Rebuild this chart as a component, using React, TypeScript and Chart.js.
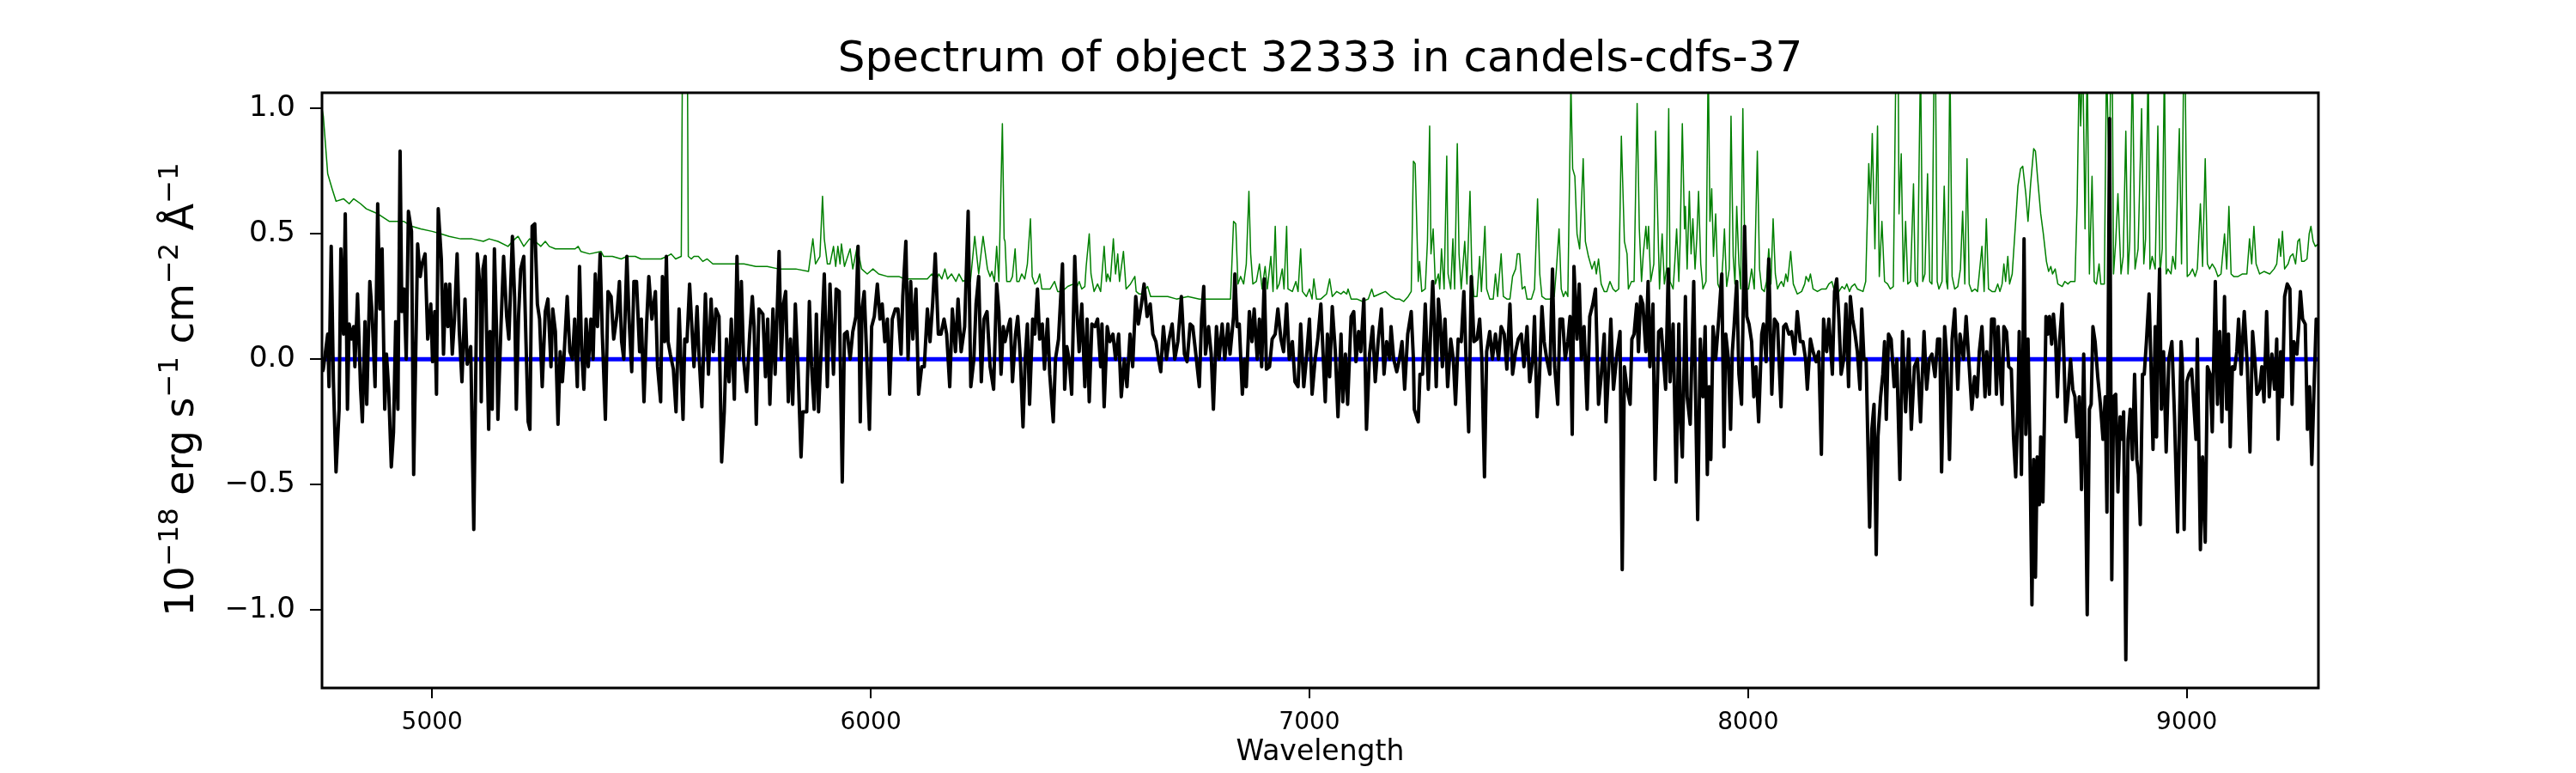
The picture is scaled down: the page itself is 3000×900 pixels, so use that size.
import React, { useEffect, useRef } from "react";
import { Chart, registerables } from "chart.js";

Chart.register(...registerables);

// ---------- data (wavelength in Angstrom, flux in 1e-18 erg/s/cm2/A) ----------
const titleText = "Spectrum of object 32333 in candels-cdfs-37";
const xLabelText = "Wavelength";
const yLabelParts: [string, boolean][] = [
  ["10", false], ["\u221218", true], [" erg s", false], ["\u22121", true],
  [" cm", false], ["\u22122", true], [" \u00c5", false], ["\u22121", true],
];

const xTicks = [5000, 6000, 7000, 8000, 9000];
const yTicks = [-1.0, -0.5, 0.0, 0.5, 1.0];
const xRange = [4749, 9300];
const yRange = [-1.312, 1.063];

// observed spectrum (black)
const fluxSpectrum: [number, number][] = [
  [4750,-0.05],[4752,-0.04],[4762,0.10],[4765,-0.11],[4770,0.45],[4775,-0.09],[4781,-0.45],[4788,-0.20],[4792,0.44],[4798,0.10],
  [4802,0.58],[4807,-0.20],[4811,0.14],[4816,0.08],[4821,0.13],[4824,-0.03],[4830,0.26],[4837,-0.12],[4841,-0.25],[4847,0.15],
  [4851,-0.18],[4858,0.31],[4863,0.19],[4870,-0.11],[4876,0.62],[4881,0.20],[4886,0.44],[4892,-0.20],[4896,0.02],[4901,-0.12],
  [4907,-0.43],[4912,-0.29],[4917,0.15],[4922,-0.20],[4927,0.83],[4931,0.19],[4936,0.28],[4941,0.00],[4946,0.59],[4953,0.51],
  [4958,-0.46],[4967,0.46],[4973,0.33],[4977,0.38],[4984,0.42],[4990,0.08],[4997,0.22],[5001,-0.01],[5006,0.19],[5010,-0.14],
  [5014,0.60],[5021,0.40],[5026,0.02],[5031,0.30],[5036,0.13],[5040,0.30],[5046,0.02],[5051,0.16],[5057,0.42],[5062,0.11],
  [5068,-0.09],[5075,0.24],[5080,-0.02],[5088,0.05],[5095,-0.68],[5098,-0.26],[5103,0.42],[5110,0.27],[5112,-0.17],[5116,0.36],
  [5121,0.41],[5124,0.13],[5129,-0.28],[5132,0.11],[5137,-0.20],[5142,0.44],[5147,0.11],[5150,-0.24],[5157,0.13],[5163,0.41],
  [5170,0.17],[5175,0.08],[5183,0.49],[5188,0.25],[5192,-0.20],[5197,0.17],[5202,0.36],[5209,0.41],[5214,0.07],[5219,-0.25],
  [5223,-0.28],[5228,0.53],[5234,0.54],[5240,0.22],[5245,0.16],[5251,-0.11],[5258,0.19],[5264,0.24],[5271,-0.03],[5275,0.20],
  [5281,0.11],[5287,-0.26],[5292,0.03],[5297,-0.09],[5301,0.02],[5308,0.25],[5314,0.03],[5320,0.00],[5325,0.16],[5331,-0.11],
  [5336,0.37],[5341,0.03],[5346,-0.12],[5351,0.16],[5356,-0.03],[5362,0.16],[5367,0.00],[5372,0.34],[5377,0.13],[5383,0.42],
  [5388,0.10],[5395,-0.24],[5401,0.27],[5408,0.25],[5414,0.08],[5421,0.17],[5427,0.31],[5432,0.07],[5437,0.00],[5444,0.41],
  [5449,0.16],[5455,-0.05],[5460,0.31],[5466,0.31],[5473,0.03],[5477,0.16],[5483,-0.17],[5489,0.14],[5494,0.33],[5501,0.16],
  [5509,0.27],[5514,-0.03],[5521,-0.17],[5525,0.33],[5530,0.07],[5534,0.41],[5538,0.07],[5543,0.02],[5550,-0.04],[5556,-0.21],
  [5563,0.20],[5567,0.00],[5572,-0.24],[5576,0.08],[5581,0.07],[5587,0.30],[5593,0.10],[5597,-0.03],[5604,0.21],[5608,0.03],
  [5615,-0.19],[5623,0.26],[5630,-0.06],[5636,0.24],[5641,0.03],[5647,0.20],[5654,0.17],[5660,-0.41],[5666,-0.21],[5671,0.08],
  [5677,-0.09],[5682,0.16],[5689,-0.16],[5695,0.41],[5700,0.00],[5705,0.31],[5710,0.00],[5717,-0.13],[5724,0.10],[5730,0.25],
  [5734,0.13],[5739,-0.26],[5745,0.20],[5754,0.18],[5760,-0.07],[5765,0.16],[5770,-0.18],[5777,0.20],[5782,-0.06],[5791,0.43],
  [5796,0.00],[5801,0.22],[5806,0.27],[5812,-0.17],[5817,0.08],[5822,-0.18],[5828,0.22],[5834,-0.03],[5841,-0.39],[5845,-0.21],
  [5854,-0.21],[5860,0.23],[5865,-0.03],[5871,-0.20],[5876,0.18],[5881,-0.21],[5888,0.08],[5894,0.34],[5901,-0.11],[5907,0.30],
  [5915,-0.06],[5921,0.28],[5928,0.27],[5935,-0.49],[5940,0.10],[5946,0.11],[5953,0.00],[5959,0.11],[5966,0.17],[5971,0.45],
  [5976,-0.25],[5980,0.20],[5985,0.27],[5991,0.00],[5997,-0.28],[6002,0.13],[6008,0.17],[6015,0.30],[6021,0.16],[6026,0.22],
  [6032,0.07],[6038,0.16],[6043,-0.14],[6049,0.16],[6056,0.20],[6062,0.20],[6069,0.02],[6073,0.25],[6080,0.47],[6085,0.00],
  [6091,0.31],[6096,0.08],[6103,0.28],[6109,-0.14],[6116,-0.03],[6122,-0.03],[6129,0.20],[6135,0.07],[6141,0.22],[6147,0.42],
  [6154,0.10],[6160,0.10],[6167,0.16],[6173,0.10],[6180,-0.11],[6186,0.20],[6193,0.03],[6199,0.24],[6206,0.03],[6214,0.13],
  [6222,0.59],[6228,-0.11],[6235,0.00],[6240,0.22],[6246,0.33],[6252,-0.09],[6258,0.16],[6265,0.19],
  [6272,-0.03],[6280,-0.12],[6287,0.30],[6292,0.19],[6297,-0.06],[6302,0.13],[6306,0.07],[6312,0.12],[6318,0.16],[6323,-0.09],
  [6330,0.10],[6335,0.17],[6341,0.00],[6347,-0.27],[6352,0.00],[6357,0.14],[6362,-0.18],[6369,0.16],[6374,0.10],[6380,0.28],
  [6385,0.08],[6391,0.14],[6396,-0.04],[6403,0.16],[6408,-0.06],[6416,-0.25],[6421,0.00],[6428,0.08],[6437,0.38],[6442,-0.12],
  [6447,0.05],[6452,0.00],[6458,-0.14],[6465,0.41],[6469,0.22],[6475,0.03],[6481,0.22],[6488,-0.11],[6493,0.16],[6498,-0.17],
  [6504,0.14],[6511,0.13],[6517,0.16],[6524,-0.03],[6527,0.14],[6532,-0.19],[6539,0.13],[6545,0.07],[6552,0.10],[6558,0.00],
  [6565,0.10],[6571,-0.15],[6578,0.00],[6584,-0.11],[6591,0.10],[6597,-0.03],[6604,0.25],[6610,0.14],[6617,0.22],[6623,0.30],
  [6630,0.17],[6637,0.22],[6643,0.10],[6650,0.07],[6656,0.00],[6661,-0.05],[6667,0.13],[6674,0.00],[6680,0.08],[6687,0.14],
  [6693,0.00],[6700,0.07],[6708,0.25],[6715,0.02],[6721,-0.01],[6728,0.14],[6734,0.13],[6741,0.02],[6749,-0.11],[6754,0.16],
  [6759,0.29],[6763,0.02],[6770,0.13],[6776,0.02],[6781,-0.20],[6788,0.13],[6794,0.00],[6801,0.14],[6807,0.00],[6814,0.14],
  [6819,0.02],[6827,0.17],[6830,0.34],[6835,0.13],[6840,0.14],[6847,-0.14],[6852,0.00],[6856,-0.11],[6863,0.19],[6869,0.07],
  [6874,0.20],[6881,0.00],[6886,0.16],[6891,-0.03],[6897,0.32],[6902,-0.04],[6909,-0.03],[6915,0.08],[6922,0.10],[6928,0.20],
  [6935,0.08],[6941,0.03],[6948,0.22],[6954,0.00],[6961,0.07],[6967,-0.09],[6974,-0.11],[6980,0.14],[6987,-0.11],[6993,0.00],
  [7000,0.16],[7006,-0.14],[7013,0.00],[7019,0.08],[7026,0.22],
  [7036,-0.17],[7041,0.10],[7046,-0.07],[7052,0.21],[7059,0.03],[7065,-0.23],[7072,0.10],[7076,-0.17],[7082,0.02],[7087,-0.18],
  [7095,0.17],[7101,0.19],[7106,-0.01],[7112,0.11],[7117,0.03],[7124,0.24],[7130,-0.28],[7137,0.02],[7144,0.13],[7150,-0.09],
  [7157,0.08],[7164,0.20],[7170,-0.06],[7176,0.07],[7183,0.00],[7186,0.13],[7192,0.00],[7199,-0.05],[7205,0.00],[7211,0.07],
  [7217,-0.12],[7224,0.10],[7232,0.19],[7237,0.00],[7239,-0.20],[7248,-0.25],[7252,-0.06],[7258,-0.06],[7264,0.22],[7271,-0.12],
  [7276,0.10],[7281,0.31],[7285,0.13],[7289,-0.11],[7294,0.24],[7298,0.16],[7303,-0.03],[7309,0.16],[7315,-0.11],[7322,0.08],
  [7328,0.00],[7333,-0.18],[7339,0.08],[7346,0.07],[7352,0.27],[7357,0.00],[7363,-0.29],[7369,0.33],[7375,0.07],[7382,0.08],
  [7388,0.16],[7393,0.00],[7399,-0.47],[7404,0.03],[7411,0.11],[7417,0.00],[7424,0.10],[7431,0.00],[7437,0.13],[7444,0.10],
  [7450,-0.04],[7457,0.22],[7463,-0.06],[7470,0.03],[7476,0.08],[7483,0.10],[7489,-0.03],[7496,0.13],[7502,-0.09],[7509,0.00],
  [7513,0.17],[7519,-0.23],[7524,-0.09],[7530,0.21],[7535,0.07],[7541,0.00],[7548,-0.06],[7554,0.36],[7559,-0.03],[7566,-0.18],
  [7571,0.16],[7577,0.16],[7583,0.00],[7589,0.07],[7594,0.17],[7599,-0.30],[7603,0.37],[7610,0.08],[7615,0.30],[7620,0.00],
  [7626,0.13],[7633,-0.20],[7639,0.17],[7646,0.22],[7652,0.28],[7659,-0.18],[7665,-0.07],[7672,0.10],[7676,-0.25],[7682,-0.04],
  [7687,0.16],[7693,-0.12],[7701,0.02],[7708,0.11],[7713,-0.84],[7718,-0.03],[7724,-0.12],[7731,-0.18],[7735,0.08],[7740,0.10],
  [7746,0.22],[7750,0.03],[7755,0.25],[7760,0.22],[7767,0.03],[7772,0.31],[7776,-0.03],[7783,0.22],[7788,-0.48],
  [7796,0.11],[7802,0.12],[7807,0.00],[7812,-0.12],[7818,0.36],[7822,-0.09],[7829,0.14],[7836,-0.49],[7842,0.14],[7846,-0.25],
  [7850,-0.39],[7857,0.25],[7861,-0.15],[7868,-0.26],[7876,0.31],[7881,-0.23],[7885,-0.64],[7891,0.08],[7897,-0.15],[7902,0.13],
  [7907,-0.46],[7911,-0.11],[7915,-0.40],[7920,0.13],[7926,0.00],[7933,0.16],[7940,0.34],[7945,-0.35],[7949,0.10],[7955,0.00],
  [7960,-0.28],[7964,0.03],[7968,0.13],[7974,0.31],[7979,-0.06],[7985,-0.18],[7992,0.53],[7997,0.17],[8002,0.14],[8008,0.07],
  [8013,-0.15],[8018,-0.03],[8024,-0.25],[8031,0.10],[8035,0.14],[8041,-0.01],[8047,0.40],[8054,-0.14],[8060,0.16],[8067,0.14],
  [8075,-0.19],[8081,0.13],[8086,0.14],[8093,0.10],[8099,0.11],[8106,0.02],[8112,0.19],[8119,0.07],[8125,0.07],[8131,0.00],
  [8135,-0.12],[8142,0.08],[8148,0.03],[8155,-0.01],[8161,0.03],[8167,-0.38],[8172,0.16],[8179,0.03],[8184,0.16],[8192,-0.06],
  [8197,0.27],[8202,0.32],[8207,0.16],[8212,-0.06],[8218,0.00],[8223,0.22],[8229,-0.11],[8233,0.25],[8238,0.16],[8243,0.11],
  [8249,0.03],[8255,-0.12],[8259,0.20],[8264,0.00],[8269,0.00],[8277,-0.67],[8282,-0.28],[8287,-0.18],[8292,-0.78],[8296,-0.31],
  [8302,-0.15],[8307,-0.06],[8311,0.07],[8315,-0.24],[8320,0.10],[8326,0.08],[8333,-0.11],[8339,0.00],[8346,-0.48],[8352,0.11],
  [8359,-0.21],[8366,0.08],[8372,-0.28],[8379,-0.03],[8386,0.00],[8393,-0.25],[8401,0.11],[8407,-0.12],[8413,0.00],[8419,0.02],
  [8426,-0.07],[8432,0.08],[8437,0.08],[8441,-0.45],[8448,0.13],[8453,0.00],[8459,-0.40],[8465,0.08],[8471,0.20],[8478,-0.12],
  [8483,0.10],[8491,0.00],[8497,0.17],[8504,-0.03],[8510,-0.20],[8516,-0.07],[8522,-0.15],[8527,0.03],[8533,0.13],[8540,-0.15],
  [8544,0.03],[8550,-0.14],[8555,0.16],
  [8561,0.16],[8566,-0.14],[8570,0.13],[8574,-0.03],[8579,-0.18],[8583,0.13],[8589,0.11],[8594,-0.03],[8600,-0.04],[8605,-0.31],
  [8610,-0.47],[8615,-0.18],[8618,0.11],[8623,-0.46],[8627,0.10],[8629,0.48],[8633,-0.30],[8638,0.08],[8642,-0.31],[8647,-0.98],
  [8651,-0.40],[8655,-0.87],[8659,-0.39],[8664,-0.58],[8667,-0.31],[8672,-0.57],[8675,-0.28],[8679,0.17],[8683,0.10],[8687,0.17],
  [8692,0.06],[8696,0.18],[8701,0.07],[8705,-0.15],[8710,0.07],[8716,0.22],[8720,0.00],[8724,-0.25],[8729,-0.15],[8735,0.00],
  [8740,-0.12],[8745,-0.15],[8750,-0.31],[8755,-0.15],[8760,-0.52],[8765,0.02],[8768,-0.31],[8773,-1.02],[8778,-0.20],[8782,-0.18],
  [8786,0.13],[8791,0.07],[8797,-0.07],[8803,-0.18],[8809,-0.32],[8814,-0.15],[8818,-0.61],[8824,0.96],[8829,-0.88],[8833,-0.15],
  [8838,-0.14],[8843,-0.53],[8848,-0.23],[8853,-0.32],[8856,-0.21],[8861,-1.20],[8866,-0.32],[8871,-0.20],[8876,-0.40],[8881,-0.06],
  [8886,-0.40],[8890,-0.46],[8894,-0.66],[8899,-0.06],[8903,-0.06],[8908,0.07],[8914,0.26],[8918,0.00],[8923,-0.36],[8928,0.13],
  [8931,-0.31],[8934,0.07],[8938,0.36],[8942,-0.20],[8947,0.03],[8953,-0.37],[8959,0.00],[8966,0.07],[8972,-0.23],[8979,-0.69],
  [8983,-0.28],[8987,0.07],[8990,-0.03],[8994,-0.68],[9000,-0.09],[9005,-0.06],[9011,-0.04],[9016,-0.18],[9021,-0.32],[9024,0.08],
  [9031,-0.76],[9036,-0.39],[9042,-0.73],[9047,-0.03],[9053,-0.06],[9058,-0.29],[9065,0.31],[9070,-0.18],[9075,0.11],[9080,-0.25],
  [9086,0.25],[9091,-0.20],[9095,0.10],[9099,-0.35],[9104,-0.03],[9109,-0.04],[9114,0.03],[9118,0.16],[9124,-0.06],[9128,0.10],
  [9131,0.19],[9138,-0.03],[9144,-0.37],[9150,0.11],[9155,0.00],[9160,-0.14],[9166,-0.12],[9171,-0.03],[9176,-0.17],[9182,0.19],
  [9188,-0.15],[9194,0.02],[9200,-0.12],[9205,0.08],[9208,-0.32],[9214,0.03],[9218,-0.15],[9223,0.25],[9229,0.30],[9235,0.28],
  [9240,-0.18],[9244,0.07],[9251,0.02],[9255,0.13],[9259,0.27],[9264,0.16],[9270,0.14],[9275,-0.28],[9280,-0.11],[9285,-0.42],
  [9290,-0.12],[9295,0.16],[9300,0.14],
];

// noise / sky spectrum (green)
const noiseSpectrum: [number, number][] = [
  [4749,1.00],[4752,0.97],[4762,0.74],[4772,0.68],[4781,0.63],[4798,0.64],[4811,0.62],[4821,0.64],[4837,0.62],[4850,0.60],
  [4863,0.59],[4876,0.58],[4902,0.55],[4922,0.55],[4935,0.55],[4954,0.53],[4974,0.52],[5000,0.51],[5020,0.50],[5039,0.49],
  [5065,0.48],[5091,0.48],[5117,0.47],[5130,0.48],[5150,0.47],[5173,0.45],[5189,0.48],[5196,0.49],[5209,0.45],[5222,0.48],
  [5235,0.47],[5248,0.45],[5258,0.47],[5267,0.45],[5281,0.44],[5307,0.44],[5326,0.44],[5333,0.45],[5339,0.43],[5359,0.42],
  [5385,0.43],[5391,0.41],[5411,0.41],[5431,0.40],[5444,0.41],[5463,0.41],[5476,0.40],[5496,0.40],
  [5522,0.40],[5535,0.41],[5545,0.42],[5555,0.40],[5568,0.41],[5572,1.60],[5581,1.60],[5584,0.41],[5591,0.40],[5597,0.41],
  [5607,0.41],[5617,0.39],[5627,0.40],[5640,0.38],[5653,0.38],[5672,0.38],[5692,0.38],[5711,0.38],[5738,0.37],[5764,0.37],
  [5790,0.36],[5829,0.36],[5858,0.35],[5868,0.48],[5874,0.38],[5884,0.41],[5890,0.65],[5894,0.48],[5901,0.38],[5907,0.38],
  [5915,0.45],[5920,0.37],[5925,0.45],[5930,0.38],[5933,0.46],[5940,0.37],[5953,0.44],[5959,0.36],[5969,0.45],[5979,0.36],
  [5992,0.34],[6005,0.36],[6018,0.34],[6038,0.33],[6064,0.33],[6077,0.32],[6103,0.32],[6129,0.32],[6139,0.34],[6148,0.31],
  [6155,0.34],[6162,0.32],[6169,0.36],[6175,0.32],[6184,0.34],[6194,0.31],[6201,0.34],[6210,0.31],[6220,0.32],[6227,0.31],
  [6237,0.49],[6246,0.34],[6256,0.49],
  [6266,0.36],[6272,0.33],[6276,0.35],[6282,0.31],[6287,0.45],[6292,0.31],[6300,0.94],[6304,0.48],[6306,0.47],[6310,0.31],
  [6318,0.31],[6323,0.33],[6329,0.44],[6333,0.31],[6338,0.31],[6344,0.34],[6351,0.32],[6357,0.38],[6364,0.56],[6368,0.33],
  [6374,0.30],[6380,0.31],[6385,0.34],[6390,0.28],[6400,0.28],[6409,0.28],[6419,0.31],[6426,0.27],[6436,0.27],[6449,0.29],
  [6462,0.30],[6468,0.28],[6475,0.31],[6481,0.28],[6488,0.29],[6491,0.37],[6498,0.50],[6502,0.34],[6509,0.27],[6517,0.30],
  [6524,0.27],[6532,0.45],[6537,0.31],[6540,0.34],[6546,0.31],[6553,0.48],[6558,0.34],[6563,0.42],[6567,0.31],[6576,0.43],
  [6582,0.28],[6592,0.30],[6602,0.33],[6605,0.27],[6612,0.26],[6618,0.26],[6631,0.29],[6638,0.25],[6657,0.25],[6677,0.25],
  [6697,0.24],[6723,0.25],[6749,0.24],[6775,0.24],[6788,0.24],[6801,0.24],[6820,0.24],[6827,0.55],[6832,0.54],[6837,0.30],
  [6843,0.33],[6850,0.30],[6856,0.38],[6862,0.67],[6866,0.42],[6871,0.30],[6879,0.31],[6886,0.38],[6892,0.28],[6899,0.37],
  [6904,0.28],[6912,0.41],[6917,0.27],[6922,0.53],[6926,0.28],[6931,0.30],[6938,0.36],[6942,0.28],[6948,0.53],[6951,0.28],
  [6961,0.27],[6969,0.31],[6974,0.27],[6980,0.44],[6984,0.27],[6993,0.25],[7000,0.28],[7006,0.24],[7010,0.32],[7016,0.24],
  [7026,0.24],
  [7039,0.26],[7046,0.32],[7052,0.25],[7062,0.27],[7072,0.26],[7078,0.27],[7085,0.26],[7088,0.28],[7095,0.24],[7108,0.24],
  [7121,0.23],[7134,0.24],[7142,0.28],[7147,0.25],[7160,0.26],[7173,0.27],[7186,0.25],[7196,0.24],[7205,0.24],[7215,0.23],
  [7225,0.25],[7232,0.27],[7237,0.79],[7241,0.78],[7248,0.31],[7251,0.39],[7256,0.27],[7264,0.28],[7269,0.47],[7274,0.93],
  [7277,0.42],[7282,0.52],[7287,0.30],[7294,0.34],[7297,0.28],[7301,0.44],[7307,0.28],[7313,0.81],[7316,0.34],[7322,0.28],
  [7327,0.48],[7331,0.28],[7337,0.86],[7341,0.42],[7346,0.28],[7354,0.47],[7359,0.30],[7366,0.67],[7370,0.36],[7375,0.25],
  [7382,0.25],[7388,0.41],[7392,0.27],[7400,0.53],[7404,0.28],[7411,0.24],[7419,0.24],[7424,0.34],[7429,0.25],[7437,0.42],
  [7442,0.25],[7450,0.24],[7457,0.24],[7463,0.33],[7470,0.36],[7474,0.42],[7479,0.42],[7485,0.28],[7491,0.29],[7496,0.24],
  [7506,0.24],[7513,0.28],[7520,0.64],[7525,0.34],[7530,0.25],[7538,0.24],[7548,0.24],[7558,0.25],[7563,0.36],[7569,0.52],
  [7574,0.28],[7579,0.25],[7584,0.27],[7589,0.25],[7596,1.10],[7600,0.76],[7605,0.73],[7610,0.50],[7616,0.44],[7624,0.80],
  [7629,0.47],[7636,0.41],[7644,0.36],[7650,0.39],[7654,0.34],[7659,0.40],[7665,0.30],[7672,0.27],[7678,0.27],[7685,0.31],
  [7692,0.28],[7698,0.27],[7705,0.28],[7711,0.89],[7718,0.47],[7724,0.42],[7727,0.28],[7734,0.31],[7740,0.31],[7747,1.02],
  [7752,0.52],[7757,0.31],[7761,0.42],[7767,0.53],[7770,0.44],[7773,0.53],[7778,0.31],[7785,0.38],[7789,0.91],
  [7798,0.28],[7804,0.50],[7809,0.30],[7814,0.36],[7819,1.00],[7822,0.31],[7829,0.28],[7833,0.39],[7837,0.52],[7842,0.31],
  [7845,0.47],[7850,0.94],[7855,0.52],[7857,0.61],[7861,0.36],[7866,0.67],[7870,0.42],[7874,0.56],[7879,0.36],[7883,0.48],
  [7887,0.67],[7892,0.38],[7897,0.28],[7904,0.31],[7909,1.20],[7913,0.55],[7917,0.68],[7921,0.41],[7926,0.58],[7931,0.30],
  [7938,0.27],[7943,0.41],[7946,0.52],[7951,0.29],[7957,0.36],[7961,0.97],[7966,0.41],[7970,0.30],[7974,0.61],[7979,0.38],
  [7983,0.28],[7988,1.00],[7992,0.47],[7996,0.28],[8001,0.28],[8008,0.36],[8014,0.28],[8021,0.83],[8026,0.36],[8031,0.28],
  [8037,0.27],[8042,0.31],[8047,0.44],[8052,0.30],[8057,0.56],[8062,0.34],[8067,0.28],[8072,0.30],[8076,0.31],[8081,0.29],
  [8086,0.34],[8090,0.31],[8093,0.36],[8097,0.43],[8103,0.30],[8112,0.26],[8122,0.27],[8129,0.30],[8132,0.33],[8138,0.31],
  [8142,0.34],[8148,0.28],[8158,0.27],[8168,0.28],[8178,0.28],[8184,0.30],[8191,0.31],[8197,0.27],[8207,0.27],[8214,0.29],
  [8220,0.28],[8225,0.30],[8231,0.27],[8236,0.29],[8243,0.30],[8249,0.28],[8262,0.27],[8268,0.31],[8275,0.78],[8279,0.62],
  [8283,0.90],[8289,0.44],[8295,0.93],[8299,0.33],[8305,0.55],[8311,0.31],[8318,0.30],[8324,0.28],[8331,0.29],[8337,1.20],
  [8342,1.20],[8344,0.58],[8349,0.82],[8354,0.31],[8359,0.55],[8364,0.30],[8370,0.31],[8377,0.70],[8381,0.31],[8386,0.29],
  [8393,1.20],[8398,0.31],[8403,0.34],[8409,0.74],[8414,0.31],[8419,0.30],[8424,1.20],[8427,1.20],[8431,0.31],[8435,0.28],
  [8442,0.31],[8447,0.69],[8452,0.31],[8455,0.28],[8460,1.20],[8465,0.33],[8471,0.28],[8478,0.29],[8484,0.36],[8489,0.59],
  [8494,0.30],[8499,0.80],[8504,0.30],[8510,0.27],[8517,0.28],[8523,0.27],[8533,0.45],[8538,0.27],[8543,0.56],[8548,0.28],
  [8556,0.27],
  [8563,0.27],[8569,0.30],[8574,0.27],[8579,0.30],[8583,0.38],[8587,0.31],[8592,0.41],[8596,0.30],[8602,0.34],[8608,0.50],
  [8615,0.69],[8621,0.76],[8626,0.77],[8633,0.66],[8638,0.55],[8644,0.70],[8651,0.84],[8655,0.83],[8660,0.72],[8667,0.58],
  [8673,0.50],[8680,0.39],[8685,0.35],[8690,0.37],[8694,0.34],[8700,0.36],[8706,0.30],[8716,0.29],[8722,0.31],[8729,0.30],
  [8735,0.31],[8745,0.31],[8750,0.62],[8755,1.20],[8758,0.93],[8763,1.20],[8768,0.52],[8773,1.20],[8778,0.34],[8784,0.73],
  [8789,0.31],[8794,0.30],[8800,0.38],[8804,0.30],[8812,0.30],[8817,1.20],[8823,0.70],[8827,1.20],[8830,1.20],[8833,0.34],
  [8838,0.47],[8843,0.66],[8850,0.34],[8855,0.41],[8861,0.91],[8866,0.34],[8870,0.47],[8876,1.20],[8882,0.36],[8889,0.44],
  [8897,1.00],[8902,0.38],[8906,0.48],[8912,1.20],[8916,0.36],[8921,0.41],[8928,0.36],[8934,0.93],[8939,0.34],[8944,0.44],
  [8949,1.20],[8953,0.34],[8957,0.36],[8964,0.34],[8968,0.41],[8974,0.36],[8983,0.92],[8988,0.38],[8993,1.20],[8996,1.20],
  [9001,0.33],[9007,0.34],[9013,0.36],[9019,0.33],[9024,0.36],[9031,0.62],[9036,0.37],[9042,0.80],[9047,0.38],[9052,0.36],
  [9058,0.38],[9065,0.36],[9071,0.33],[9078,0.34],[9086,0.50],[9091,0.36],[9096,0.61],[9101,0.34],[9107,0.33],[9117,0.33],
  [9127,0.34],[9137,0.34],[9143,0.48],[9148,0.38],[9153,0.53],[9158,0.38],[9166,0.34],[9176,0.35],[9189,0.34],[9199,0.36],
  [9205,0.38],[9210,0.48],[9214,0.41],[9218,0.51],[9223,0.36],[9231,0.38],[9236,0.41],[9242,0.42],[9248,0.38],[9253,0.47],
  [9257,0.48],[9262,0.39],[9267,0.39],[9274,0.40],[9279,0.50],[9283,0.53],[9288,0.47],[9293,0.45],[9300,0.46],
];

// model (blue)
const modelSpectrum: [number, number][] = [[4749, 0.0], [9300, 0.0]];

// ---------- chart ----------
const FONT = "'DejaVu Sans', 'Liberation Sans', sans-serif";

const fmtY = (v: number) => (v < 0 ? "\u2212" + Math.abs(v).toFixed(1) : v.toFixed(1));

const textPlugin = {
  id: "mplTexts",
  afterDraw(chart: any) {
    const { ctx, chartArea: a } = chart;
    ctx.save();
    ctx.strokeStyle = "#000";
    ctx.lineWidth = 3;
    ctx.strokeRect(a.left, a.top, a.right - a.left, a.bottom - a.top);

    const cx = (a.left + a.right) / 2;
    ctx.fillStyle = "#000";
    ctx.textAlign = "center";
    ctx.textBaseline = "alphabetic";
    ctx.font = `50px ${FONT}`;
    ctx.fillText(titleText, cx, 83);
    ctx.font = `33px ${FONT}`;
    ctx.fillText(xLabelText, cx, 885);

    const fs = 46;
    const sfs = fs * 0.7;
    let total = 0;
    const widths = yLabelParts.map(([t, sup]) => {
      ctx.font = `${sup ? sfs : fs}px ${FONT}`;
      const w = ctx.measureText(t).width;
      total += w;
      return w;
    });
    ctx.translate(225, (a.top + a.bottom) / 2 - 1);
    ctx.rotate(-Math.PI / 2);
    ctx.textAlign = "left";
    let x = -total / 2;
    yLabelParts.forEach(([t, sup], i) => {
      ctx.font = `${sup ? sfs : fs}px ${FONT}`;
      ctx.fillText(t, x, sup ? -0.39 * fs : 0);
      x += widths[i];
    });
    ctx.restore();
  },
};

export default function App() {
  const ref = useRef<HTMLCanvasElement | null>(null);

  useEffect(() => {
    document.body.style.margin = "0";
    const canvas = ref.current;
    if (!canvas) return;
    const toXY = (arr: [number, number][]) => arr.map(([x, y]) => ({ x, y }));
    const chart = new Chart(canvas, {
      type: "line",
      data: {
        datasets: [
          {
            label: "flux",
            data: toXY(fluxSpectrum),
            borderColor: "#000000",
            borderWidth: 4,
            pointRadius: 0,
            tension: 0,
            borderJoinStyle: "round",
            clip: 0,
            order: 0,
          },
          {
            label: "model",
            data: toXY(modelSpectrum),
            borderColor: "#0000ff",
            borderWidth: 5,
            pointRadius: 0,
            tension: 0,
            clip: 0,
            order: 1,
          },
          {
            label: "noise",
            data: toXY(noiseSpectrum),
            borderColor: "#008000",
            borderWidth: 1.5,
            pointRadius: 0,
            tension: 0,
            borderJoinStyle: "round",
            clip: 0,
            order: 2,
          },
        ],
      },
      options: {
        animation: false,
        responsive: false,
        devicePixelRatio: 1,
        layout: { padding: { left: 0, right: 300, top: 108, bottom: 0 } },
        plugins: {
          legend: { display: false },
          tooltip: { enabled: false },
          title: { display: false },
        },
        events: [],
        scales: {
          x: {
            type: "linear",
            position: "bottom",
            min: xRange[0],
            max: xRange[1],
            afterBuildTicks: (s: any) => {
              s.ticks = xTicks.map((v) => ({ value: v }));
            },
            afterFit: (s: any) => {
              s.height = 99;
            },
            ticks: {
              autoSkip: false,
              maxRotation: 0,
              padding: 12,
              color: "#000",
              font: { family: FONT, size: 28 },
              callback: (v: any) => String(v),
            },
            grid: {
              drawOnChartArea: false,
              drawTicks: true,
              tickLength: 12,
              color: "#000",
              lineWidth: 2,
            },
            border: { display: false },
          },
          y: {
            type: "linear",
            position: "left",
            min: yRange[0],
            max: yRange[1],
            afterBuildTicks: (s: any) => {
              s.ticks = yTicks.map((v) => ({ value: v }));
            },
            afterFit: (s: any) => {
              s.width = 375;
            },
            ticks: {
              autoSkip: false,
              padding: 17,
              color: "#000",
              font: { family: FONT, size: 34 },
              callback: (v: any) => fmtY(Number(v)),
            },
            grid: {
              drawOnChartArea: false,
              drawTicks: true,
              tickLength: 14,
              color: "#000",
              lineWidth: 2,
            },
            border: { display: false },
          },
        },
      },
      plugins: [textPlugin],
    } as any);
    return () => chart.destroy();
  }, []);

  return (
    <div style={{ width: 3000, height: 900, background: "#fff" }}>
      <canvas ref={ref} width={3000} height={900} style={{ width: 3000, height: 900, display: "block" }} />
    </div>
  );
}
